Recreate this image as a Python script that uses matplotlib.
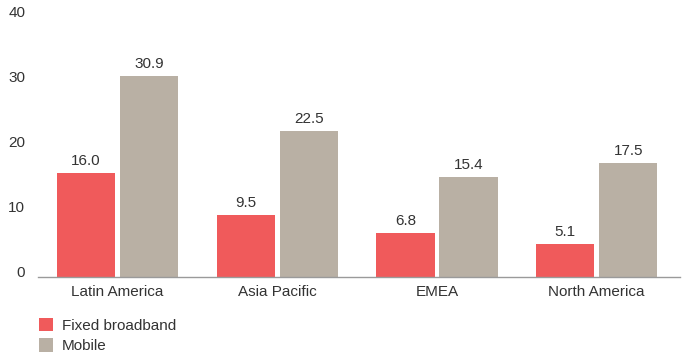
import matplotlib
matplotlib.use('Agg')

import numpy as np
import matplotlib.pyplot as plt
import matplotlib.transforms as mtrans

regions = ["Latin America", "Asia Pacific", "EMEA", "North America"]
fixed = [16.0, 9.5, 6.8, 5.1]
mobile = [30.9, 22.5, 15.4, 17.5]
yticks = [0, 10, 20, 30, 40]

red = "#f05a5b"
grey = "#b9b0a4"
txt = "#333333"

plt.rcParams['font.family'] = ['Liberation Sans', 'DejaVu Sans']

fig = plt.figure(figsize=(6.88, 3.53), dpi=100)
ax = fig.add_axes([0.055, 0.215, 0.933, 0.737])

x = np.arange(len(regions))
w = 0.365
b1 = ax.bar(x - w / 2 - 0.015, fixed, w, color=red, label="Fixed broadband")
b2 = ax.bar(x + w / 2 + 0.015, mobile, w, color=grey, label="Mobile")

for bars, vals in ((b1, fixed), (b2, mobile)):
    for r, v in zip(bars, vals):
        ax.text(r.get_x() + r.get_width() / 2, v + 0.8, f"{v:.1f}",
                ha="center", va="bottom", fontsize=11, color=txt)

ax.set_xlim(-0.5, 3.52)
ax.set_ylim(0, 40)
ax.set_yticks(yticks)
ax.set_xticks(x)
ax.set_xticklabels(regions)
ax.tick_params(axis="both", length=0, labelsize=11, colors=txt)
ax.tick_params(axis="y", pad=9)
ax.tick_params(axis="x", pad=6)
# y labels sit a little above their values in the original
shift = mtrans.ScaledTranslation(0, 4 / 72, fig.dpi_scale_trans)
for lab in ax.get_yticklabels():
    lab.set_transform(lab.get_transform() + shift)
for s in ("top", "right", "left"):
    ax.spines[s].set_visible(False)
ax.spines["bottom"].set_color("#9a9a9a")
ax.spines["bottom"].set_linewidth(1.0)

fig.legend(loc="upper left", bbox_to_anchor=(0.045, 0.12), frameon=False,
           fontsize=11, handlelength=0.95, handleheight=0.95,
           handletextpad=0.55, labelspacing=0.35, labelcolor=txt,
           borderpad=0)

fig.savefig("out.png", dpi=100)
